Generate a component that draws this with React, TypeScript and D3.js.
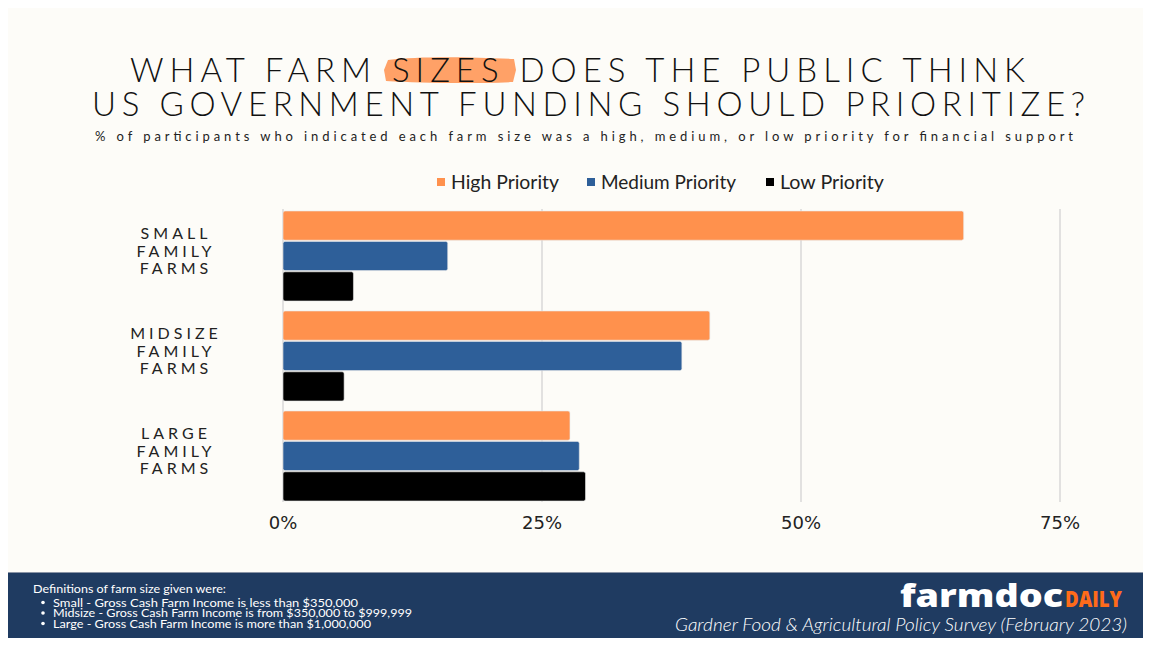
import React from "react";
import * as d3 from "d3";

const categories = ["SMALL FAMILY FARMS", "MIDSIZE FAMILY FARMS", "LARGE FAMILY FARMS"];
const seriesNames = ["High Priority", "Medium Priority", "Low Priority"];
const highPriority = [65.7, 41.2, 27.7];
const mediumPriority = [15.9, 38.5, 28.6];
const lowPriority = [6.8, 5.9, 29.2];
const tickValues = [0, 25, 50, 75];
const tickLabels = ["0%", "25%", "50%", "75%"];
const colors = ["#ff914d", "#2e5f99", "#000000"];
const titleLines = ["WHAT FARM SIZES DOES THE PUBLIC THINK", "US GOVERNMENT FUNDING SHOULD PRIORITIZE?"];
const subtitle = "% of participants who indicated each farm size was a high, medium, or low priority for financial support";
const footnoteTitle = "Definitions of farm size given were:";
const footnotes = [
  "Small - Gross Cash Farm Income is less than $350,000",
  "Midsize - Gross Cash Farm Income is from $350,000 to $999,999",
  "Large - Gross Cash Farm Income is more than $1,000,000",
];
const sourceText = "Gardner Food & Agricultural Policy Survey (February 2023)";

export default function App() {
  const W = 1151, H = 646;
  const series = [highPriority, mediumPriority, lowPriority];
  const x = d3.scaleLinear().domain([0, 75]).range([283, 1060]);
  const y0 = d3.scaleBand<string>().domain(categories).range([211, 501]).paddingInner(0.1).paddingOuter(0);
  const y1 = d3.scaleBand<number>().domain([0, 1, 2]).range([0, y0.bandwidth()]).paddingInner(0.04);
  const font = "Lato, 'Open Sans', sans-serif";
  const legendX = [437, 587, 766];
  const legendW = [108, 135, 104];
  const footW = [305, 359, 318];

  return (
    <div style={{ margin: "-8px" }}>
      <svg width={W} height={H} style={{ display: "block", background: "#ffffff" }}>
        <rect x={7} y={3} width={W - 7} height={569} fill="#fdfcf8" />
        {/* title highlight */}
        <path d="M388,60 C420,56 470,57 514,59 L516,70 L513,82 C470,84 420,83 386,81 L384,70 Z" fill="#ff914d" opacity={0.85} />
        {titleLines.map((t, i) => (
          <text key={i} x={i === 0 ? 130 : 92} y={i === 0 ? 82 : 116} textLength={i === 0 ? 895 : 993} lengthAdjust="spacing"
            fontFamily={font} fontSize={33} fill="#111" fontWeight={300}>{t}</text>
        ))}
        <text x={95} y={141} textLength={978} lengthAdjust="spacing" fontFamily={font} fontSize={13} fill="#222">{subtitle}</text>

        {/* legend */}
        {seriesNames.map((s, i) => (
          <g key={s}>
            <rect x={legendX[i]} y={178} width={8} height={8} fill={colors[i]} />
            <text x={legendX[i] + 14} y={189} textLength={legendW[i]} lengthAdjust="spacingAndGlyphs" fontFamily={font} fontSize={18.5} fill="#222">{s}</text>
          </g>
        ))}

        {/* gridlines */}
        {tickValues.map((t) => (
          <line key={t} x1={x(t)} x2={x(t)} y1={209} y2={502} stroke="#d9d9d9" strokeWidth={1.5} />
        ))}

        {/* bars */}
        {categories.map((c, ci) => (
          <g key={c} transform={`translate(0,${y0(c)})`}>
            {series.map((vals, si) => (
              <rect key={si} x={x(0)} y={y1(si)} width={x(vals[ci]) - x(0)} height={y1.bandwidth()}
                rx={2} fill={colors[si]} stroke="#e8e8e8" strokeWidth={0.6} />
            ))}
          </g>
        ))}

        {/* category labels */}
        {categories.map((c) => {
          const words = c.split(" ");
          const cy = (y0(c) as number) + y0.bandwidth() / 2 - 17;
          return (
            <text key={c} fontFamily={font} fontSize={16} fill="#222" fontWeight={400} letterSpacing={4} textAnchor="middle">
              {words.map((w, i) => (
                <tspan key={i} x={176} y={cy + i * 17.5}>{w}</tspan>
              ))}
            </text>
          );
        })}

        {/* ticks */}
        {tickValues.map((t, i) => (
          <text key={t} x={x(t)} y={529} textAnchor="middle" fontFamily="'DejaVu Sans', sans-serif" fontSize={18} fill="#222">{tickLabels[i]}</text>
        ))}

        {/* footer */}
        <rect x={7} y={572} width={W - 7} height={H - 572} fill="#1f3b61" />
        <line x1={7} x2={W} y1={572.5} y2={572.5} stroke="#8a94a6" strokeWidth={1} />
        <text x={33} y={593} textLength={193} lengthAdjust="spacingAndGlyphs" fontFamily={font} fontSize={10.5} fill="#ffffff">{footnoteTitle}</text>
        {footnotes.map((f, i) => (
          <g key={i}>
            <circle cx={43} cy={602.5 + i * 10.5} r={1.8} fill="#ffffff" />
            <text x={53} y={606.5 + i * 10.5} textLength={footW[i]} lengthAdjust="spacingAndGlyphs" fontFamily={font} fontSize={10.5} fill="#ffffff">{f}</text>
          </g>
        ))}
        <text x={900} y={607} textLength={163} lengthAdjust="spacingAndGlyphs" fontFamily="'Open Sans', sans-serif" fontWeight={800} fontSize={32} fill="#ffffff">farmdoc</text>
        <text x={1065} y={607} textLength={57} lengthAdjust="spacingAndGlyphs" fontFamily="'Open Sans', sans-serif" fontWeight={800} fontSize={22} fill="#ff6b1a">DAILY</text>
        <text x={675} y={631} textLength={452} lengthAdjust="spacingAndGlyphs" fontFamily={font} fontStyle="italic" fontWeight={300} fontSize={17} fill="#ffffff">{sourceText}</text>
      </svg>
    </div>
  );
}
